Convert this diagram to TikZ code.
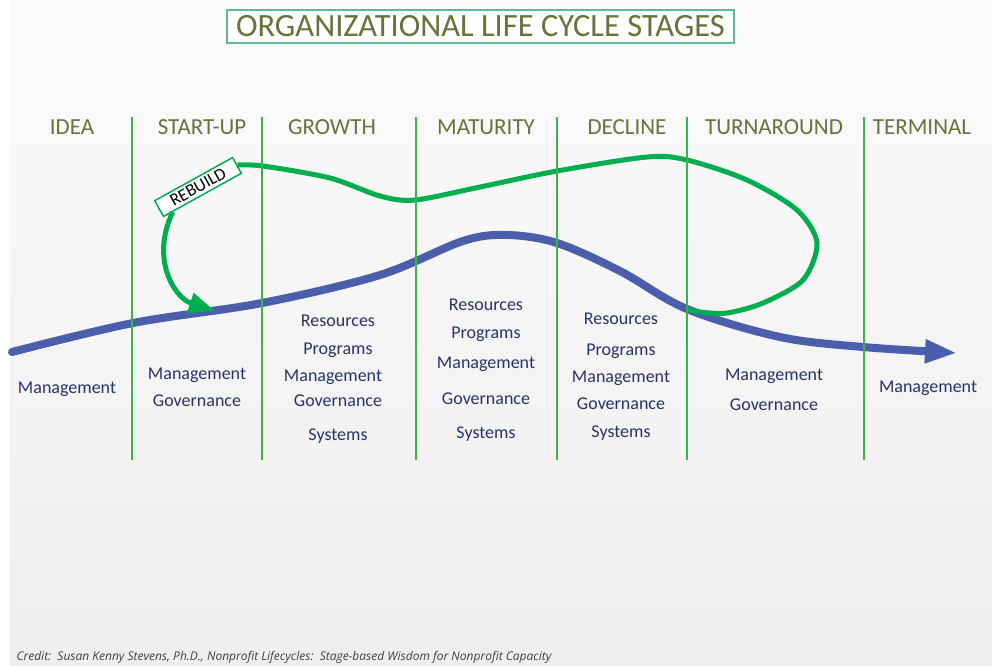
\documentclass[tikz,border=0pt]{standalone}
\usepackage{fontspec}
\setmainfont{Carlito}
\newfontfamily\creditfont{Open Sans}
\usetikzlibrary{arrows.meta,calc}
\definecolor{stagegreen}{RGB}{60,180,75}
\definecolor{headolive}{RGB}{100,116,58}
\definecolor{textnavy}{RGB}{38,52,105}
\definecolor{curveblue}{RGB}{74,94,172}
\definecolor{loopgreen}{RGB}{0,174,80}
\definecolor{titleframe}{RGB}{95,185,150}
\tikzset{
	stagehead/.style={text=headolive,font=\fontsize{23}{26}\selectfont},
	itemtext/.style={text=textnavy,font=\fontsize{18}{20}\selectfont},
	divider/.style={stagegreen,line width=1.5pt},
}
\begin{document}
\begin{tikzpicture}[x=1pt,y=-1pt]
		\useasboundingbox (0,0) rectangle (992,665);
		\fill[white] (0,0) rectangle (992,665);
		\shade[top color=black!1.5,bottom color=black!6.5] (10,0) rectangle (992,665);
		%
		\node[draw=titleframe,line width=1.2pt,fill=white,text=headolive,
			font=\fontsize{32.5}{35}\selectfont,minimum width=507pt,
			minimum height=33pt,inner sep=0pt] (title) at (480.5,26.5)
			{ORGANIZATIONAL LIFE CYCLE STAGES};
		%
		\node[stagehead] (idea) at (72,127) {IDEA};
		\node[stagehead] (start) at (202,127) {START-UP};
		\node[stagehead] (growth) at (332,127) {GROWTH};
		\node[stagehead] (mat) at (486,127) {MATURITY};
		\node[stagehead] (dec) at (627,127) {DECLINE};
		\node[stagehead] (turn) at (774,127) {TURNAROUND};
		\node[stagehead] (term) at (922,127) {TERMINAL};
		%
		\node[draw=loopgreen,line width=1.5pt,fill=white,rotate=29,
			font=\fontsize{17.5}{19}\selectfont,minimum width=89pt,
			minimum height=18pt,inner sep=0pt] (rb) at (198,187) {REBUILD};
		%
		\coordinate (meet) at (687,309);
		\draw[curveblue,line width=8pt,line cap=round,
			-{Triangle[length=32pt,width=22pt]}]
			plot[smooth,tension=0.55] coordinates {(12,352) (133,323) (262,303)
			(380,275) (463,241) (507,235) (557,243) (620,271) (meet)
			(780,337) (863,347) (957,353)};
		%
		\draw[loopgreen,line width=5pt]
			plot[smooth,tension=0.5] coordinates {(rb.east) (263,166) (330,178)
			(380,196) (415,200) (480,187) (557,171) (647,157) (687,160)
			(747,180) (797,210) (817,243) (803,280) (763,303) (727,313)
			(700,312) (meet)};
		\draw[loopgreen,line width=5pt,-{Triangle[length=26pt,width=20pt]}]
			($(rb.south west)!0.12!(rb.south east)$) .. controls (150,260) and
			(175,298) .. (215,311);
		%
		\draw[divider] (132,117) -- (132,460);
		\draw[divider] (262,117) -- (262,460);
		\draw[divider] (416,117) -- (416,460);
		\draw[divider] (557,117) -- (557,460);
		\draw[divider] (687,117) -- (687,460);
		\draw[divider] (864,117) -- (864,460);
		%
		\node[itemtext] (id-man) at (67,389) {Management};
		%
		\node[itemtext] (st-man) at (197,375) {Management};
		\node[itemtext] (st-gov) at (197,401) {Governance};
		%
		\node[itemtext] (gr-res) at (338,321) {Resources};
		\node[itemtext] (gr-pro) at (338,350) {Programs};
		\node[itemtext] (gr-man) at (333,377) {Management};
		\node[itemtext] (gr-gov) at (338,401) {Governance};
		\node[itemtext] (gr-sys) at (338,436) {Systems};
		%
		\node[itemtext] (ma-res) at (486,305) {Resources};
		\node[itemtext] (ma-pro) at (486,334) {Programs};
		\node[itemtext] (ma-man) at (486,364) {Management};
		\node[itemtext] (ma-gov) at (486,399) {Governance};
		\node[itemtext] (ma-sys) at (486,434) {Systems};
		%
		\node[itemtext] (de-res) at (621,319) {Resources};
		\node[itemtext] (de-pro) at (621,351) {Programs};
		\node[itemtext] (de-man) at (621,378) {Management};
		\node[itemtext] (de-gov) at (621,404) {Governance};
		\node[itemtext] (de-sys) at (621,433) {Systems};
		%
		\node[itemtext] (tu-man) at (774,376) {Management};
		\node[itemtext] (tu-gov) at (774,405) {Governance};
		%
		\node[itemtext] (te-man) at (928,388) {Management};
		%
		\node[anchor=west,text=black!75,font=\creditfont\itshape\fontsize{12}{14}\selectfont]
			(credit) at (13,657) {Credit:\ \ Susan Kenny Stevens, Ph.D., Nonprofit Lifecycles:\ \ Stage-based Wisdom for Nonprofit Capacity};
\end{tikzpicture}
\end{document}
